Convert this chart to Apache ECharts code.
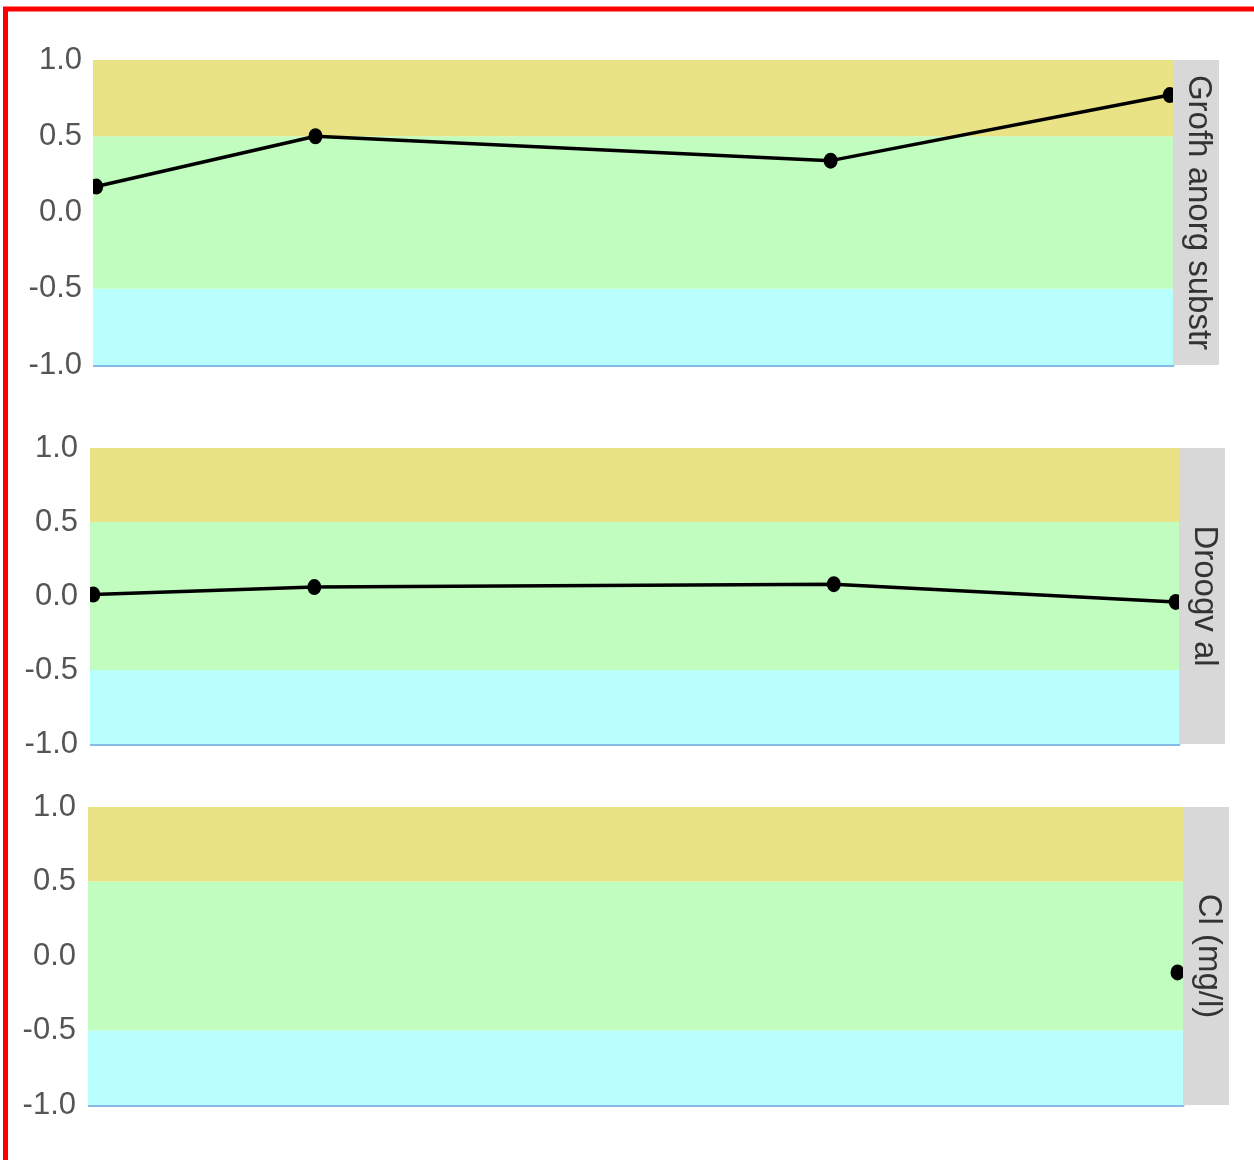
<!DOCTYPE html>
<html>
<head>
<meta charset="utf-8">
<title>Indicatoren</title>
<script src="https://cdn.jsdelivr.net/npm/echarts@6/dist/echarts.min.js"></script>
<style>
  html, body { margin: 0; padding: 0; background: #fff; }
  #chart { width: 1254px; height: 1160px; }
</style>
</head>
<body>
<div id="chart"></div>
<script>
// Sample positions along the (hidden) horizontal axis, 0 = first, 1 = last
const sampleX = [0.003, 0.206, 0.683, 0.997];
const grofhValues = [0.17, 0.50, 0.34, 0.77];
const droogValues = [0.01, 0.06, 0.08, -0.04];
const clX = [0.995];
const clValues = [-0.11];
const panelTitles = ['Grofh anorg substr', 'Droogv al', 'Cl (mg/l)'];
const yTicks = [-1.0, -0.5, 0.0, 0.5, 1.0];
// class limits: low band, middle band, high band
const bandLimits = [-1.0, -0.5, 0.5, 1.0];

const bandColors = ['#B8FFFD', '#C1FDBF', '#E9E385'];
const panels = [
  { xs: sampleX, ys: grofhValues, left: 93, top: 60, width: 1080, height: 305, labelGap: 11 },
  { xs: sampleX, ys: droogValues, left: 90, top: 448, width: 1089, height: 296, labelGap: 12 },
  { xs: clX, ys: clValues, left: 88, top: 807, width: 1095, height: 298, labelGap: 12 }
];
const stripWidth = 46;

const chart = echarts.init(document.getElementById('chart'), null, { renderer: 'canvas' });

const grids = [], xAxes = [], yAxes = [], series = [], graphics = [];

panels.forEach((p, i) => {
  grids.push({ left: p.left, top: p.top, width: p.width, height: p.height, containLabel: false });
  xAxes.push({
    type: 'value', gridIndex: i, min: 0, max: 1,
    axisLabel: { show: false }, axisTick: { show: false }, splitLine: { show: false },
    axisLine: { show: true, onZero: false, lineStyle: { color: '#84BCE6', width: 3 } }
  });
  yAxes.push({
    type: 'value', gridIndex: i, min: yTicks[0], max: yTicks[yTicks.length - 1], interval: 0.5,
    axisLine: { show: false }, axisTick: { show: false }, splitLine: { show: false },
    axisLabel: {
      margin: p.labelGap,
      color: '#555',
      fontFamily: "'Liberation Sans', Arial, sans-serif",
      fontSize: 31,
      formatter: v => v.toFixed(1)
    }
  });
  const bandAreas = [];
  for (let b = 0; b < bandLimits.length - 1; b++) {
    bandAreas.push([
      { yAxis: bandLimits[b], itemStyle: { color: bandColors[b], opacity: 1 } },
      { yAxis: bandLimits[b + 1] }
    ]);
  }
  series.push({
    type: 'line', xAxisIndex: i, yAxisIndex: i,
    data: p.xs.map((x, k) => [x, p.ys[k]]),
    symbol: 'circle', symbolSize: [14, 16],
    itemStyle: { color: '#000' },
    lineStyle: { color: '#000', width: 3.5 },
    clip: false, silent: true, animation: false, z: 3,
    markArea: { silent: true, data: bandAreas, z: 1 }
  });
  // facet strip with the panel title
  graphics.push({
    type: 'rect', z: 100,
    shape: { x: p.left + p.width, y: p.top, width: stripWidth, height: p.height },
    style: { fill: '#D8D8D8' }
  });
  graphics.push({
    type: 'text', z: 101,
    x: p.left + p.width + stripWidth / 2 + 2, y: p.top + p.height / 2,
    rotation: -Math.PI / 2,
    style: {
      text: panelTitles[i], x: 0, y: 0, align: 'center', verticalAlign: 'middle',
      fill: '#333', fontSize: 33, fontFamily: "'Liberation Sans', Arial, sans-serif"
    }
  });
  // keep markers inside the panel on the left edge
  graphics.push({
    type: 'rect', z: 100,
    shape: { x: p.left - 8, y: p.top - 2, width: 8, height: p.height + 4 },
    style: { fill: '#fff' }
  });
});

// red frame around the figure
graphics.push({
  type: 'rect', z: 200,
  shape: { x: 5.5, y: 9, width: 1300, height: 1200 },
  style: { fill: 'none', stroke: '#FF0000', lineWidth: 5 }
});

chart.setOption({
  animation: false,
  grid: grids,
  xAxis: xAxes,
  yAxis: yAxes,
  series: series,
  graphic: graphics
});
</script>
</body>
</html>
